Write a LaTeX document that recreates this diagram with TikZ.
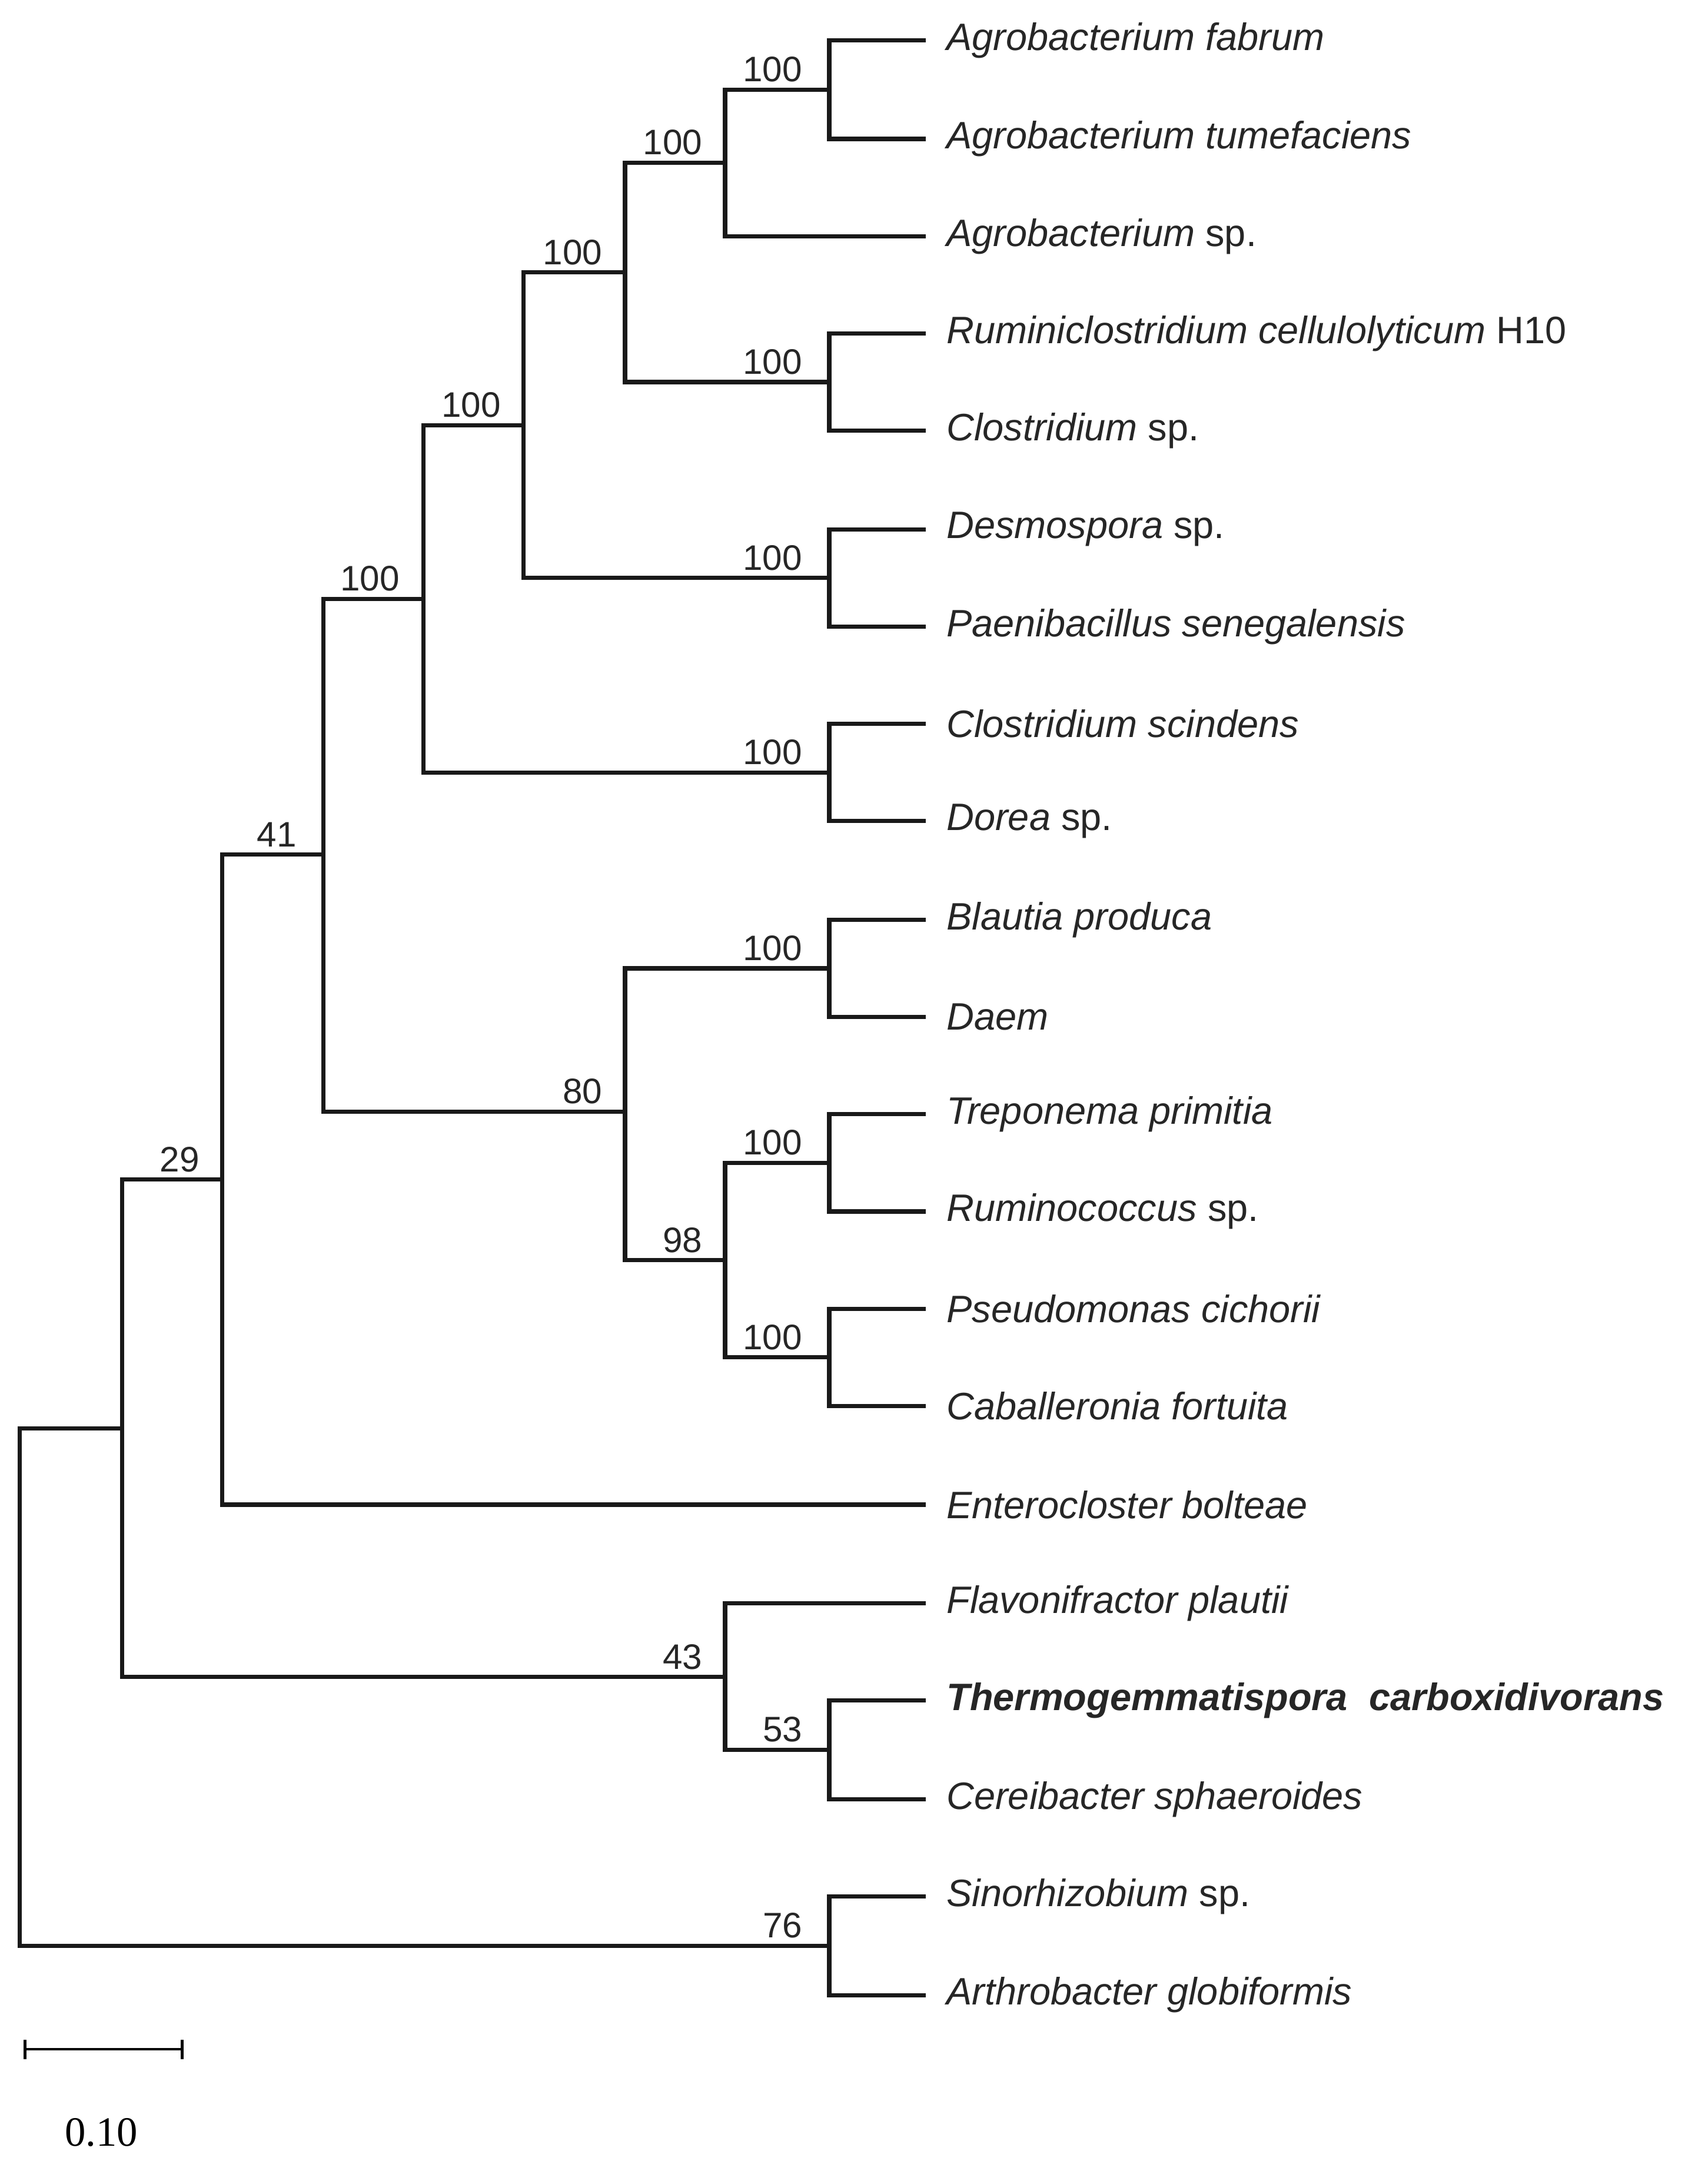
\documentclass[tikz,border=0pt]{standalone}
\usepackage{fontspec}
\setmainfont{Liberation Sans}
\newfontfamily\serifb{Liberation Serif}
\begin{document}
\begin{tikzpicture}[x=1pt,y=-1pt,line width=3pt,
  br/.style={draw=black!90,line cap=rect},
  leaf/.style={anchor=west,inner sep=0pt,font=\fontsize{27.5}{32}\selectfont\itshape,text=black!85},
  bs/.style={anchor=south east,inner sep=1pt,font=\fontsize{25.5}{30}\selectfont,text=black!85}]
\useasboundingbox (0,0) rectangle (1213,1572);
% leaves
\foreach \n/\y/\t in {
 l1/29/{Agrobacterium fabrum},
 l2/100/{Agrobacterium tumefaciens},
 l3/170/{Agrobacterium \upshape sp.},
 l4/240/{Ruminiclostridium cellulolyticum \upshape H10},
 l5/310/{Clostridium \upshape sp.},
 l6/381/{Desmospora \upshape sp.},
 l7/451/{Paenibacillus senegalensis},
 l8/521/{Clostridium scindens},
 l9/591/{Dorea \upshape sp.},
 l10/662/{Blautia produca},
 l11/732/{Daem},
 l12/802/{Treponema primitia},
 l13/872/{Ruminococcus \upshape sp.},
 l14/942/{Pseudomonas cichorii},
 l15/1012/{Caballeronia fortuita},
 l16/1083/{Enterocloster bolteae},
 l17/1154/{Flavonifractor plautii},
 l18/1224/{\bfseries Thermogemmatispora\ \ carboxidivorans},
 l19/1295/{Cereibacter sphaeroides},
 l20/1365/{Sinorhizobium \upshape sp.},
 l21/1436/{Arthrobacter globiformis}}
{ \coordinate (t\n) at (665,\y); \node[leaf] (\n) at (680,\y) {\t}; }
% internal nodes
\coordinate (A) at (597,64.5);
\coordinate (B) at (522,117);
\coordinate (C) at (597,275);
\coordinate (D) at (450,196);
\coordinate (E) at (597,416);
\coordinate (F) at (377,306);
\coordinate (G) at (597,556);
\coordinate (H) at (305,431);
\coordinate (I) at (597,697);
\coordinate (J) at (597,837);
\coordinate (K) at (597,977);
\coordinate (L) at (522,907);
\coordinate (M) at (450,800);
\coordinate (N) at (233,615);
\coordinate (O) at (160,849);
\coordinate (P) at (597,1259.5);
\coordinate (Q) at (522,1207);
\coordinate (R) at (88,1028);
\coordinate (S) at (597,1400.5);
\coordinate (Z) at (14,1214);
\foreach \p/\c in {A/tl1,A/tl2,B/A,B/tl3,C/tl4,C/tl5,D/B,D/C,E/tl6,E/tl7,F/D,F/E,
  G/tl8,G/tl9,H/F,H/G,I/tl10,I/tl11,J/tl12,J/tl13,K/tl14,K/tl15,L/J,L/K,M/I,M/L,
  N/H,N/M,O/N,O/tl16,P/tl18,P/tl19,Q/tl17,Q/P,R/O,R/Q,S/tl20,S/tl21,Z/R,Z/S}
  \draw[br] (\p) |- (\c);
% bootstrap labels
\foreach \n/\x/\y/\v in {a/580/64.5/100,b/508/117/100,c/580/275/100,d/436/196/100,
  e/580/416/100,f/363/306/100,g/580/556/100,h/290/431/100,i/580/697/100,j/580/837/100,
  k/580/977/100,l/508/907/98,m/436/800/80,n/216/615/41,o/146/849/29,p/580/1259.5/53,
  q/508/1207/43,s/580/1400.5/76}
  \node[bs] (bs\n) at (\x,\y-3) {\v};
% scale bar
\coordinate (s1) at (18,1475); \coordinate (s2) at (131,1475);
\draw[line width=2pt] (s1) -- (s2);
\draw[line width=2pt] ([yshift=-7]s1) -- ([yshift=7]s1);
\draw[line width=2pt] ([yshift=-7]s2) -- ([yshift=7]s2);
\node[font=\fontsize{30}{34}\selectfont\serifb] (sl) at (73,1535) {0.10};
\end{tikzpicture}
\end{document}
